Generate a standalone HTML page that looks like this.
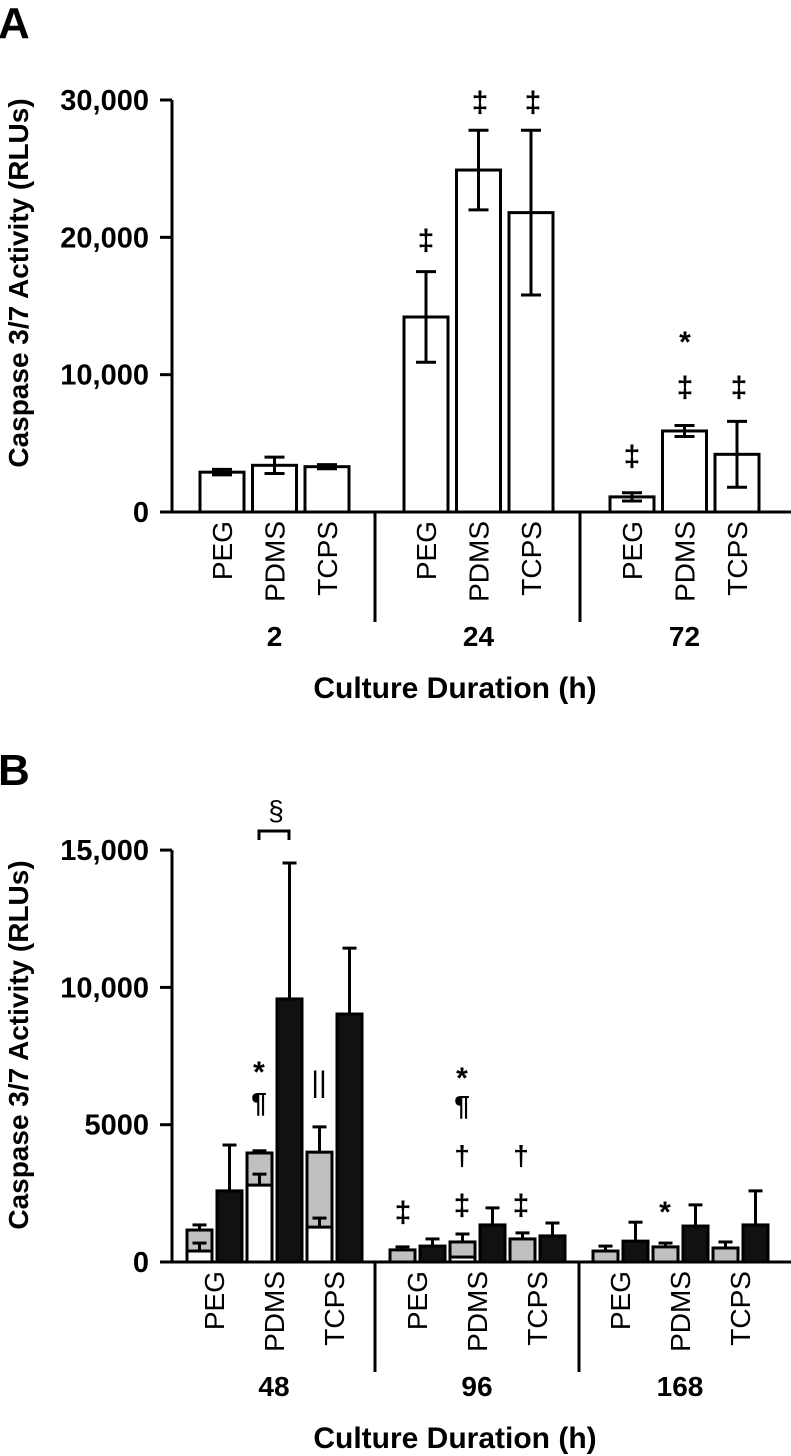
<!DOCTYPE html>
<html><head><meta charset="utf-8"><style>
body{margin:0;background:#fff}
svg{display:block;font-family:"Liberation Sans",Arial,sans-serif}
</style></head><body>
<svg id="s" width="791" height="1456" viewBox="0 0 791 1456"></svg>
<script>
// ---- Panel A data ----
const aGroups = ["2","24","72"];
const aMaterials = ["PEG","PDMS","TCPS"];
const aMeans = [[2900,3400,3300],[14200,24900,21800],[1100,5900,4200]];
const aErrs = [[200,600,150],[3300,2900,6000],[300,400,2400]];
const aTicks = [0,10000,20000,30000];
const aTickLabels = ["0","10,000","20,000","30,000"];
// ---- Panel B data ----
const bGroups = ["48","96","168"];
const bMaterials = ["PEG","PDMS","TCPS"];
const bWhite = [[400,2800,1270],[0,180,0],[0,0,0]];
const bWhiteErr = [[290,400,330],[0,0,0],[0,0,0]];
const bGrey = [[1165,3970,4000],[440,730,840],[400,550,510]];
const bGreyErr = [[185,80,920],[110,290,220],[180,140,220]];
const bBlack = [[2590,9580,9030],[580,1350,950],[760,1310,1350]];
const bBlackErr = [[1670,4950,2400],[260,620,470],[690,770,1240]];
const bTicks = [0,5000,10000,15000];
const bTickLabels = ["0","5000","10,000","15,000"];

const S = document.getElementById('s');
const NS = "http://www.w3.org/2000/svg";
function el(tag, attrs, parent){const e=document.createElementNS(NS,tag);for(const k in attrs)e.setAttribute(k,attrs[k]);(parent||S).appendChild(e);return e;}
function txt(str,x,y,size,bold,anchor,rot,parent){
  const t=el('text',{x:x,y:y,'font-size':size,'font-weight':bold?'bold':'normal','text-anchor':anchor||'middle',fill:'#000'},parent);
  if(rot) t.setAttribute('transform','rotate('+rot+' '+x+' '+y+')');
  t.textContent=str;return t;}

const AX=172;
const TF=29, CF=28, GF=28, XF=30;
// ---------- Panel A ----------
const gA=el('g',{});


const yA=v=>512-v*(412/30000);
const la=txt("A",-2,38,44,true,'start',0,gA);


const yta=txt("Caspase 3/7 Activity (RLUs)",28,283,28,true,'middle',-90,gA);


el('line',{x1:AX,y1:yA(30000),x2:AX,y2:yA(0),stroke:'#000','stroke-width':3},gA);
el('line',{x1:AX,y1:512,x2:791,y2:512,stroke:'#000','stroke-width':3},gA);
aTicks.forEach((v,i)=>{
  el('line',{x1:160,y1:yA(v),x2:AX,y2:yA(v),stroke:'#000','stroke-width':3},gA);
  const t=txt(aTickLabels[i],149,yA(v)+10,TF,true,'end',0,gA);
  
  
});
const aStart=[222,426,632], aPitch=52.5, aW=44;
aGroups.forEach((g,gi)=>{
  aMaterials.forEach((m,mi)=>{
    const cx=aStart[gi]+mi*aPitch, v=aMeans[gi][mi], e=aErrs[gi][mi];
    const r=el('rect',{x:cx-aW/2,y:yA(v),width:aW,height:512-yA(v),fill:'#fff',stroke:'#000','stroke-width':3},gA);
    
    
    el('line',{x1:cx,y1:yA(v+e),x2:cx,y2:yA(v-e),stroke:'#000','stroke-width':3},gA);
    el('line',{x1:cx-10,y1:yA(v+e),x2:cx+10,y2:yA(v+e),stroke:'#000','stroke-width':3},gA);
    el('line',{x1:cx-10,y1:yA(v-e),x2:cx+10,y2:yA(v-e),stroke:'#000','stroke-width':3},gA);
    const l=txt(m,cx+10,521,CF,false,'end',-90,gA);
    
    
  });
  const gl=txt(g,aStart[gi]+aPitch,646,GF,true,'middle',0,gA);
  
  
});
[375,580].forEach(x=>el('line',{x1:x,y1:512,x2:x,y2:622,stroke:'#000','stroke-width':3},gA));
const xta=txt("Culture Duration (h)",455,698,XF,true,'middle',0,gA);


[["‡",426,250],["‡",480,112],["‡",533,112],["‡",632,466],["‡",685,397],["*",685,352],["‡",739,397]].forEach(a=>{
  const t=txt(a[0],a[1],a[2],30,true,'middle',0,gA);
  
  
});

// ---------- Panel B ----------
const gB=el('g',{});


const yB=v=>1262-v*(137.3/5000);
const lb=txt("B",-2,785,44,true,'start',0,gB);


const ytb=txt("Caspase 3/7 Activity (RLUs)",28,1045,28,true,'middle',-90,gB);


el('line',{x1:AX,y1:yB(15000),x2:AX,y2:1262,stroke:'#000','stroke-width':3},gB);
el('line',{x1:AX,y1:1262,x2:791,y2:1262,stroke:'#000','stroke-width':3},gB);
bTicks.forEach((v,i)=>{
  el('line',{x1:160,y1:yB(v),x2:AX,y2:yB(v),stroke:'#000','stroke-width':3},gB);
  const t=txt(bTickLabels[i],149,yB(v)+10,TF,true,'end',0,gB);
  
  
});
function errb(cx,v,e,g){
  el('line',{x1:cx,y1:yB(v),x2:cx,y2:yB(v+e),stroke:'#000','stroke-width':3},g);
  el('line',{x1:cx-7,y1:yB(v+e),x2:cx+7,y2:yB(v+e),stroke:'#000','stroke-width':3},g);
}
const bStart=[187,390,593], bW=25;
bGroups.forEach((g,gi)=>{
  bMaterials.forEach((m,mi)=>{
    const x=bStart[gi]+mi*60;
    const gv=bGrey[gi][mi], wv=bWhite[gi][mi];
    const rg=el('rect',{x:x,y:yB(gv),width:bW,height:1262-yB(gv),fill:'#c0c0c0',stroke:'#000','stroke-width':3},gB);
    
    
    if(wv>0){
      const rw=el('rect',{x:x,y:yB(wv),width:bW,height:1262-yB(wv),fill:'#fff',stroke:'#000','stroke-width':3},gB);
      
      
      if(bWhiteErr[gi][mi]>0) errb(x+bW/2,wv,bWhiteErr[gi][mi],gB);
    }
    errb(x+bW/2,gv,bGreyErr[gi][mi],gB);
    const bv=bBlack[gi][mi];
    const rb=el('rect',{x:x+30,y:yB(bv),width:bW,height:1262-yB(bv),fill:'#111',stroke:'#000','stroke-width':3},gB);
    
    
    errb(x+30+bW/2,bv,bBlackErr[gi][mi],gB);
    const l=txt(m,x+27+10,1271,CF,false,'end',-90,gB);
    
    
  });
  const gl=txt(g,bStart[gi]+87,1396,GF,true,'middle',0,gB);
  
  
});
[375,579].forEach(x=>el('line',{x1:x,y1:1262,x2:x,y2:1372,stroke:'#000','stroke-width':3},gB));
const xtb=txt("Culture Duration (h)",455,1448,XF,true,'middle',0,gB);


el('path',{d:'M259,840 V831 H289 V840',fill:'none',stroke:'#000','stroke-width':3},gB);
[["§",276,820,28,false],["*",259,1082,30,true],["¶",259,1112,28,true],["||",319,1092,30,false],
 ["‡",403,1222,30,true],["*",462,1088,30,true],["¶",462,1115,28,true],["†",462,1165,28,true],["‡",462,1215,30,true],
 ["†",521,1165,28,true],["‡",521,1215,30,true],["*",665,1222,30,true]].forEach(a=>{
  const t=txt(a[0],a[1],a[2],a[3],a[4],'middle',0,gB);
  
  
});
</script>
</body></html>
